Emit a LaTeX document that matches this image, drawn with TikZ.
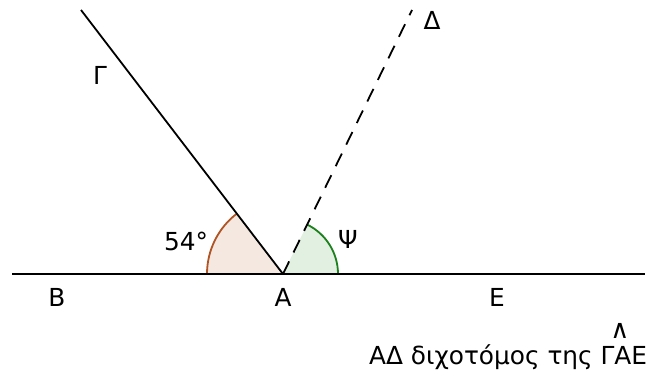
\documentclass[tikz,border=0pt]{standalone}
\usepackage{fontspec}
\setmainfont{DejaVu Sans}
\usepackage{tikz}
\usetikzlibrary{positioning}
\usepackage{xcolor}
\definecolor{arcbrown}{RGB}{176,84,36}
\definecolor{fillbrown}{RGB}{244,232,225}
\definecolor{arcgreen}{RGB}{28,128,28}
\definecolor{fillgreen}{RGB}{226,240,226}

\begin{document}
\begin{tikzpicture}[x=0.5pt,y=0.5pt,line width=0.9pt,
  lbl/.style={font=\fontsize{12.4}{14}\selectfont,inner sep=0pt}]
\useasboundingbox (0,0) rectangle (663,378);
\coordinate (A) at (283,104);
\coordinate (Bend) at (12,104);
\coordinate (Eend) at (645,104);
\coordinate (G) at (81,368);
\coordinate (D) at (412,368);
% angles
\fill[fillbrown] (A) -- ++(180:38pt) arc[start angle=180,end angle=127.4,radius=38pt] -- cycle;
\draw[arcbrown] (A) ++(180:38pt) arc[start angle=180,end angle=127.4,radius=38pt];
\fill[fillgreen] (A) -- ++(0:27.5pt) arc[start angle=0,end angle=63.96,radius=27.5pt] -- cycle;
\draw[arcgreen] (A) ++(0:27.5pt) arc[start angle=0,end angle=63.96,radius=27.5pt];
% lines
\draw (Bend) -- (Eend);
\draw (A) -- (G);
\draw[dash pattern=on 7pt off 5pt] (A) -- (D);
% labels
\node[lbl] (b) at (57,81) {Β};
\node[lbl] (a) at (283,81) {Α};
\node[lbl] (e) at (497,81) {Ε};
\node[lbl] (g) at (100,303) {Γ};
\node[lbl] (d) at (432,358) {Δ};
\node[lbl] (ang) at (186,137) {54°};
\node[lbl] (psi) at (348,139) {Ψ};
\node[lbl,anchor=base east] (cap) at (648,13) {ΑΔ διχοτόμος της ΓΑΕ};
\node[lbl,font=\fontsize{13}{14}\selectfont,anchor=base] (hat) at (620,39) {∧};
\end{tikzpicture}
\end{document}
